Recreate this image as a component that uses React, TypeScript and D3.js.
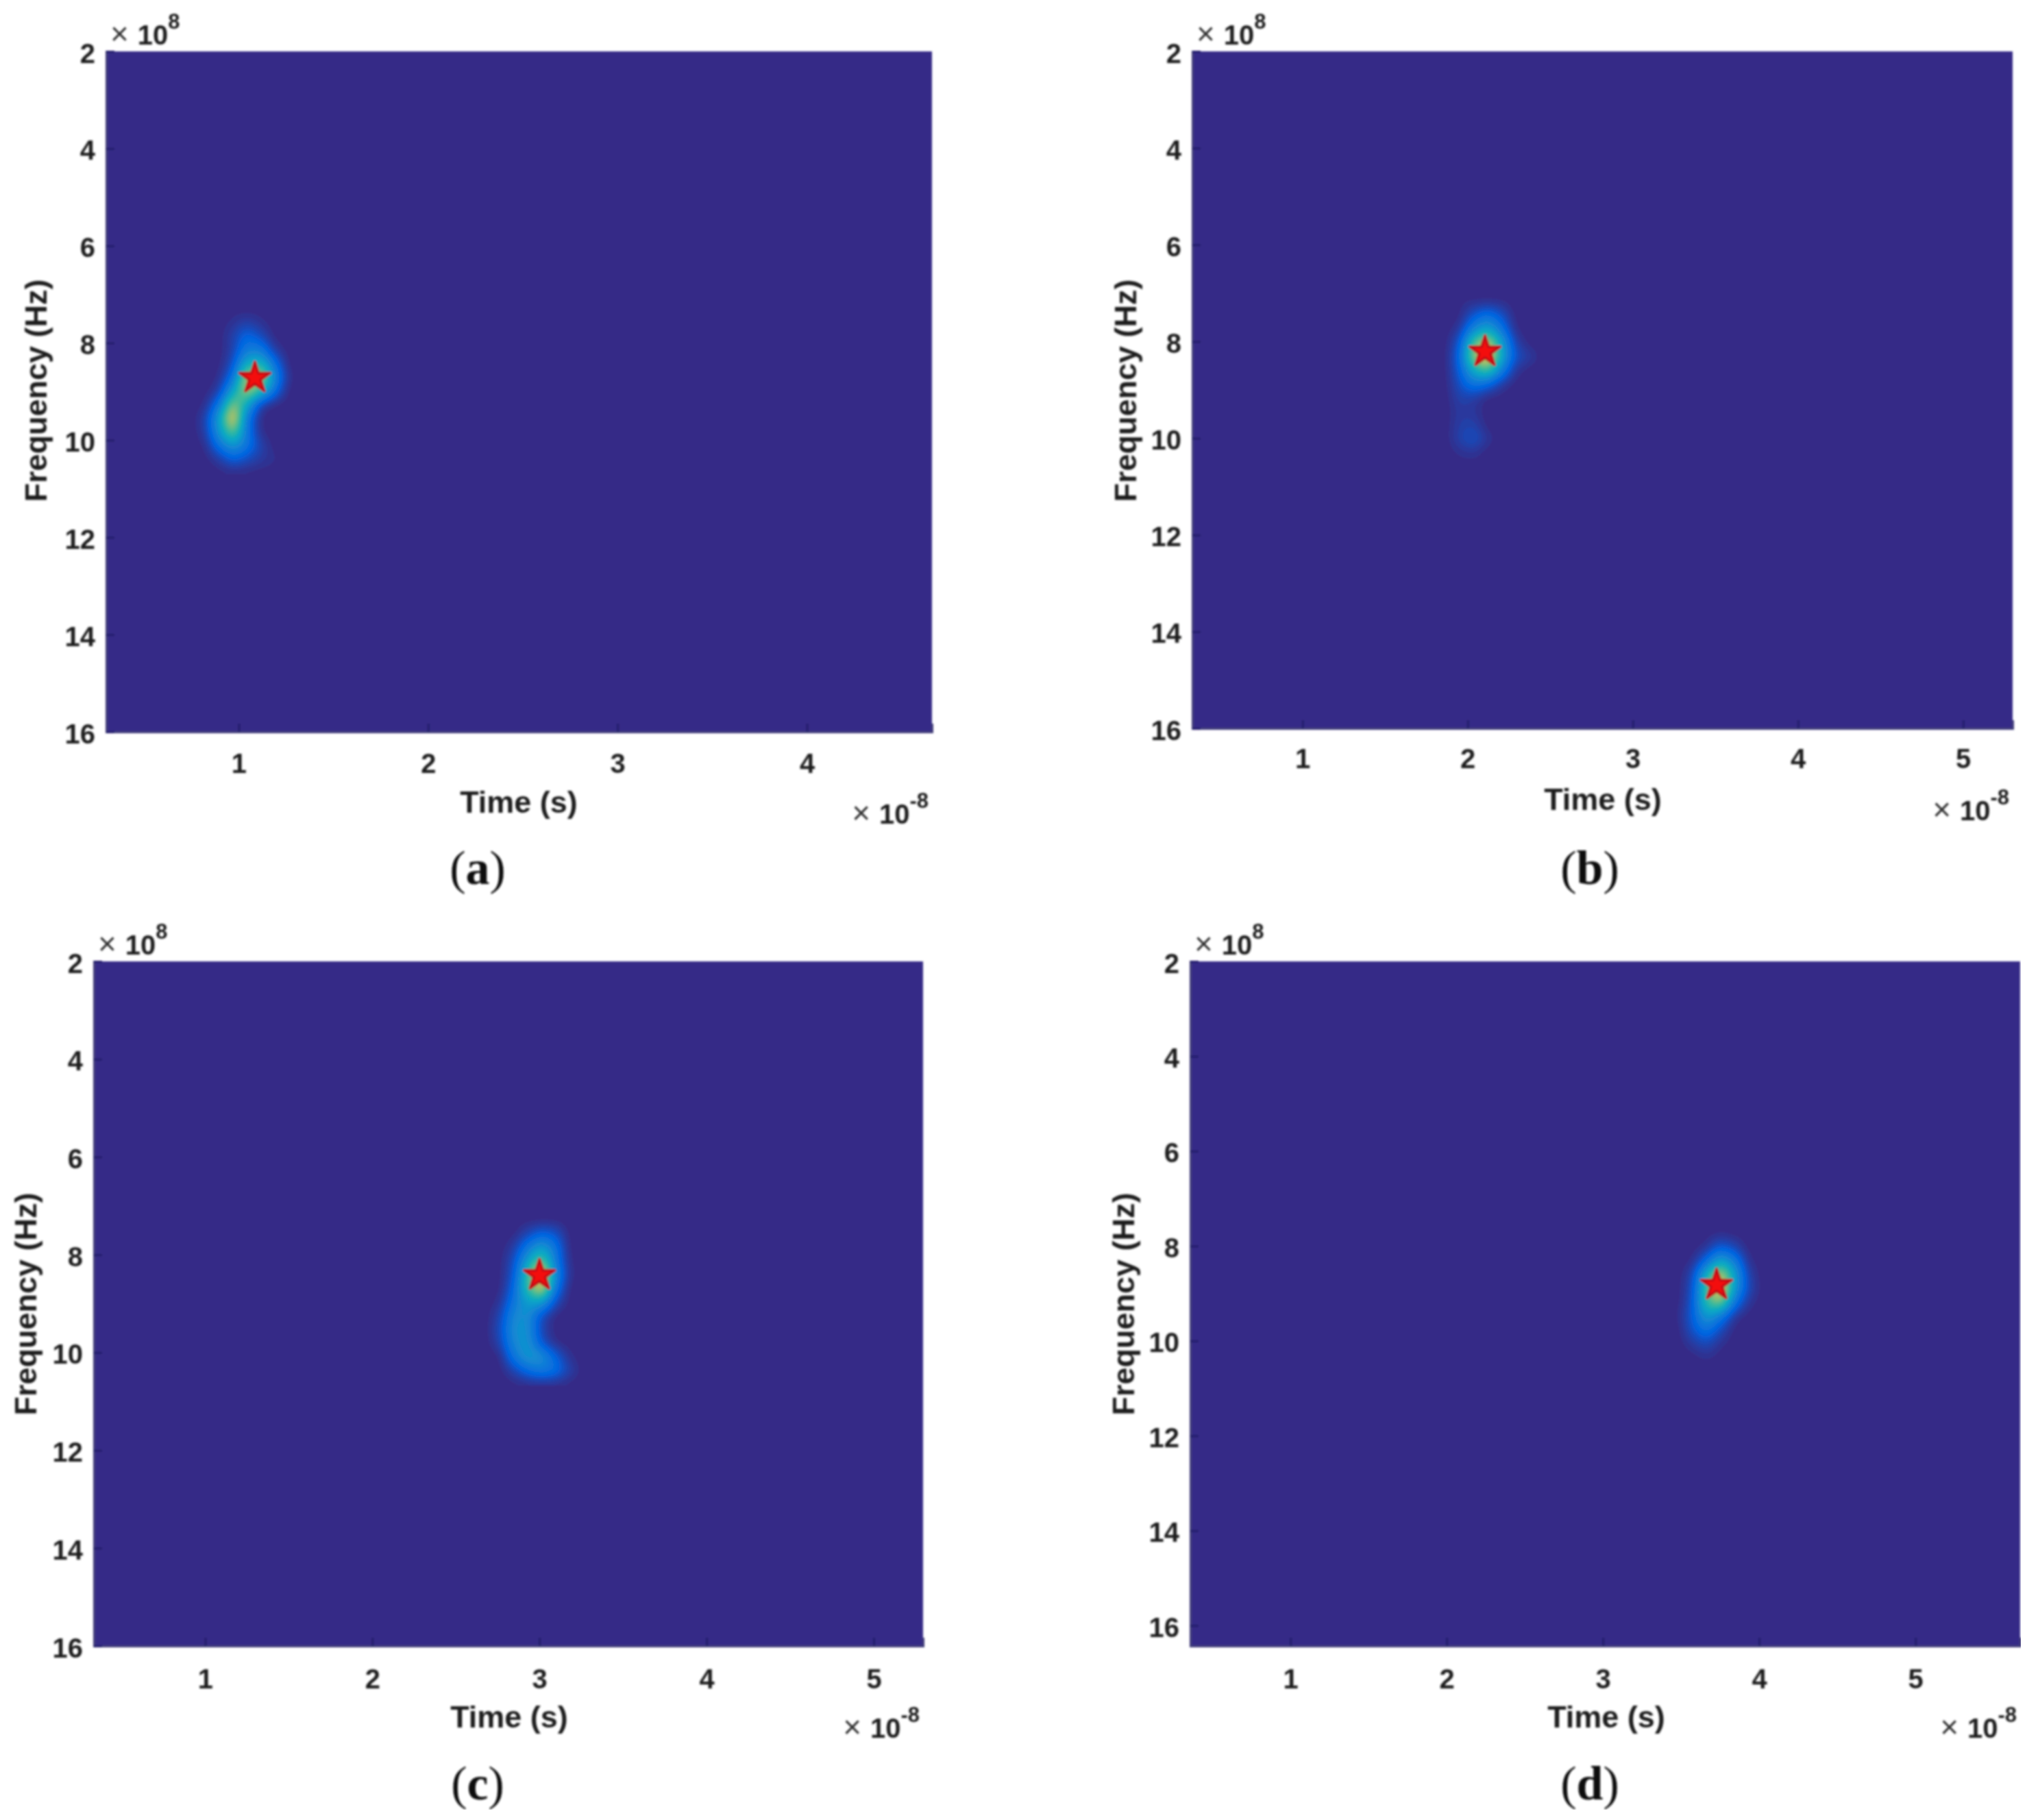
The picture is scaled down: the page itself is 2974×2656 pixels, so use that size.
import React from "react";
import * as d3 from "d3";

// time axis is in units of 1e-8 s, frequency in units of 1e8 Hz
const letters = ["a", "b", "c", "d"];
const timeTicksA = [1, 2, 3, 4];
const timeTicksB = [1, 2, 3, 4, 5];
const freqTicks = [2, 4, 6, 8, 10, 12, 14, 16];

const timeDomains = [
  [0.3, 4.66],
  [0.333, 5.3],
  [0.334, 5.295],
  [0.359, 5.67],
];
const freqDomains = [
  [2, 16],
  [2, 16],
  [2, 16],
  [2, 16.43],
];

// peak locations (time, freq)
const peakTimes = [1.085, 2.105, 3.0, 3.727];
const peakFreqs = [8.72, 8.21, 8.42, 8.82];

// first sample and step of each energy patch
const patchTimes = [
  [0.6075, 0.0723],
  [1.62, 0.083],
  [2.601, 0.082],
  [3.311, 0.0877],
];
const patchFreqs = [
  [7.005, 0.282],
  [6.889, 0.2834],
  [7.003, 0.2803],
  [7.448, 0.289],
];

// normalised energy, rows go down in frequency
const energyA = [
  [0, 0, 0, 0, 0, 0, 0, 0, 0, 0, 0, 0],
  [0, 0, 0, 0, 0, 0, 0, 0, 0, 0, 0, 0],
  [0, 0, 0, 0, 0, 0.02, 0.05, 0.02, 0, 0, 0, 0],
  [0, 0, 0, 0, 0, 0.05, 0.15, 0.08, 0, 0, 0, 0],
  [0, 0, 0, 0, 0, 0.05, 0.22, 0.22, 0.04, 0, 0, 0],
  [0, 0, 0, 0, 0, 0.08, 0.4, 0.45, 0.18, 0, 0, 0],
  [0, 0, 0, 0, 0.01, 0.16, 0.7, 0.75, 0.28, 0.02, 0, 0],
  [0, 0, 0, 0, 0.04, 0.35, 0.7, 0.5, 0.18, 0, 0, 0],
  [0, 0, 0, 0.01, 0.18, 0.66, 0.4, 0.05, 0, 0, 0, 0],
  [0, 0, 0, 0.05, 0.35, 0.84, 0.2, 0, 0, 0, 0, 0],
  [0, 0, 0, 0.04, 0.32, 0.62, 0.2, 0.01, 0, 0, 0, 0],
  [0, 0, 0, 0.01, 0.18, 0.32, 0.2, 0.06, 0, 0, 0, 0],
  [0, 0, 0, 0, 0.04, 0.13, 0.08, 0.04, 0.02, 0, 0, 0],
  [0, 0, 0, 0, 0, 0, 0, 0, 0, 0, 0, 0],
];
const energyB = [
  [0, 0, 0, 0, 0, 0, 0, 0, 0, 0, 0, 0],
  [0, 0, 0, 0, 0.01, 0.01, 0.01, 0.01, 0, 0, 0, 0],
  [0, 0, 0, 0, 0, 0.1, 0.18, 0.1, 0, 0, 0, 0],
  [0, 0, 0, 0, 0.03, 0.25, 0.38, 0.2, 0.01, 0, 0, 0],
  [0, 0, 0, 0, 0.1, 0.55, 0.75, 0.38, 0.06, 0, 0, 0],
  [0, 0, 0, 0, 0.14, 0.65, 0.9, 0.42, 0.1, 0.05, 0, 0],
  [0, 0, 0, 0, 0.12, 0.4, 0.55, 0.25, 0.03, 0, 0, 0],
  [0, 0, 0, 0, 0.09, 0.2, 0.15, 0.04, 0, 0, 0, 0],
  [0, 0, 0, 0, 0.06, 0.05, 0, 0, 0, 0, 0, 0],
  [0, 0, 0, 0, 0.04, 0.03, 0, 0, 0, 0, 0, 0],
  [0, 0, 0, 0, 0.05, 0.06, 0, 0, 0, 0, 0, 0],
  [0, 0, 0, 0, 0.06, 0.1, 0.03, 0, 0, 0, 0, 0],
  [0, 0, 0, 0, 0.02, 0.03, 0, 0, 0, 0, 0, 0],
  [0, 0, 0, 0, 0, 0, 0, 0, 0, 0, 0, 0],
];
const energyC = [
  [0, 0, 0, 0, 0, 0, 0, 0, 0, 0, 0, 0],
  [0, 0, 0, 0, 0, 0, 0, 0, 0, 0, 0, 0],
  [0, 0, 0, 0, 0.06, 0.13, 0.1, 0, 0, 0, 0, 0],
  [0, 0, 0, 0.04, 0.2, 0.35, 0.2, 0, 0, 0, 0, 0],
  [0, 0, 0, 0.08, 0.35, 0.6, 0.22, 0.01, 0, 0, 0, 0],
  [0, 0, 0, 0.1, 0.5, 0.9, 0.28, 0.02, 0, 0, 0, 0],
  [0, 0, 0, 0.14, 0.5, 0.8, 0.2, 0, 0, 0, 0, 0],
  [0, 0, 0.02, 0.2, 0.35, 0.35, 0.08, 0, 0, 0, 0, 0],
  [0, 0, 0.06, 0.27, 0.3, 0.08, 0, 0, 0, 0, 0, 0],
  [0, 0, 0.08, 0.3, 0.3, 0.06, 0, 0, 0, 0, 0, 0],
  [0, 0, 0.06, 0.27, 0.32, 0.1, 0.01, 0, 0, 0, 0, 0],
  [0, 0, 0, 0.2, 0.33, 0.3, 0.14, 0.02, 0, 0, 0, 0],
  [0, 0, 0, 0.06, 0.16, 0.22, 0.18, 0.06, 0, 0, 0, 0],
  [0, 0, 0, 0, 0, 0, 0, 0, 0, 0, 0, 0],
];
const energyD = [
  [0, 0, 0, 0, 0, 0, 0, 0, 0, 0, 0, 0],
  [0, 0, 0, 0, 0, 0.01, 0, 0, 0, 0, 0, 0],
  [0, 0, 0, 0, 0.02, 0.12, 0.07, 0, 0, 0, 0, 0],
  [0, 0, 0, 0.01, 0.15, 0.38, 0.24, 0.02, 0, 0, 0, 0],
  [0, 0, 0, 0.06, 0.42, 0.75, 0.38, 0.06, 0, 0, 0, 0],
  [0, 0, 0, 0.08, 0.52, 0.9, 0.35, 0.08, 0, 0, 0, 0],
  [0, 0, 0, 0.1, 0.5, 0.65, 0.2, 0.03, 0, 0, 0, 0],
  [0, 0, 0.01, 0.12, 0.35, 0.22, 0.03, 0, 0, 0, 0, 0],
  [0, 0, 0, 0.1, 0.2, 0.08, 0, 0, 0, 0, 0, 0],
  [0, 0, 0, 0.04, 0.08, 0.02, 0, 0, 0, 0, 0, 0],
  [0, 0, 0, 0, 0.02, 0, 0, 0, 0, 0, 0, 0],
  [0, 0, 0, 0, 0, 0, 0, 0, 0, 0, 0, 0],
];
const energies = [energyA, energyB, energyC, energyD];

// parula, as MATLAB draws it
const parula = [
  "#352a87", "#0363e1", "#1485d4", "#06a7c6", "#38b99e",
  "#92bf73", "#d9ba56", "#fcce2e", "#f9fb0e",
];

const layouts = [
  { left: 155, right: 1360, top: 75, bottom: 1068, tickY: 1128, ylabelX: 53, ylabelY: 570, timeX: 757, timeY: 1186, capX: 697, capY: 1290 },
  { left: 1740, right: 2937, top: 75, bottom: 1063, tickY: 1121, ylabelX: 1643, ylabelY: 570, timeX: 2339, timeY: 1182, capX: 2320, capY: 1290 },
  { left: 137, right: 1347, top: 1403, bottom: 2402, tickY: 2464, ylabelX: 38, ylabelY: 1903, timeX: 743, timeY: 2521, capX: 697, capY: 2626 },
  { left: 1737, right: 2948, top: 1403, bottom: 2402, tickY: 2464, ylabelX: 1640, ylabelY: 1903, timeX: 2344, timeY: 2521, capX: 2320, capY: 2626 },
];

const UP = 6;

// bilinear upsample so the contours come out smooth
const upsample = (grid: number[][]) => {
  const rows = grid.length;
  const cols = grid[0].length;
  const width = (cols - 1) * UP + 1;
  const height = (rows - 1) * UP + 1;
  const data = new Float64Array(width * height);
  for (let j = 0; j < height; j++) {
    const r = Math.min(Math.floor(j / UP), rows - 2);
    const v = j / UP - r;
    for (let i = 0; i < width; i++) {
      const c = Math.min(Math.floor(i / UP), cols - 2);
      const u = i / UP - c;
      data[j * width + i] =
        (1 - v) * ((1 - u) * grid[r][c] + u * grid[r][c + 1]) +
        v * ((1 - u) * grid[r + 1][c] + u * grid[r + 1][c + 1]);
    }
  }
  d3.blur2({ data, width, height }, 1.5);
  return { data, width, height };
};

const App = (): JSX.Element => {
  const container = React.useRef<SVGGElement | null>(null);

  React.useEffect(() => {
    if (!container.current) return;
    const root = d3.select(container.current);
    root.selectAll("*").remove();

    const color = d3
      .scaleLinear<string>()
      .domain(parula.map((_, i) => i / (parula.length - 1)))
      .range(parula);

    layouts.forEach((l, p) => {
      const x = d3.scaleLinear().domain(timeDomains[p]).range([l.left, l.right]);
      const y = d3.scaleLinear().domain(freqDomains[p]).range([l.top, l.bottom]);
      const g = root.append("g");

      g.append("rect")
        .attr("x", l.left)
        .attr("y", l.top)
        .attr("width", l.right - l.left)
        .attr("height", l.bottom - l.top)
        .attr("fill", color(0));

      // energy patch
      const { data, width, height } = upsample(energies[p]);
      const [t0, dt] = patchTimes[p];
      const [f0, df] = patchFreqs[p];
      const contours = d3
        .contours()
        .size([width, height])
        .thresholds(d3.range(0.015, 1, 0.015))(Array.from(data));
      const project = d3.geoTransform({
        point(px, py) {
          this.stream.point(x(t0 + (dt * (px - 0.5)) / UP), y(f0 + (df * (py - 0.5)) / UP));
        },
      });
      const path = d3.geoPath(project);
      g.append("g")
        .selectAll("path")
        .data(contours)
        .enter()
        .append("path")
        .attr("d", (d) => path(d))
        .attr("fill", (d) => color(d.value));

      // peak marker
      g.append("path")
        .attr("d", d3.symbol(d3.symbolStar, 620)())
        .attr("transform", `translate(${x(peakTimes[p])},${y(peakFreqs[p])})`)
        .attr("fill", "#f40a0a")
        .attr("stroke", "#c01018")
        .attr("stroke-width", 4)
        .attr("stroke-linejoin", "round");

      // axes
      const tickValues = p === 0 ? timeTicksA : timeTicksB;
      const xAxis = g
        .append("g")
        .attr("transform", `translate(0,${l.bottom})`)
        .call(d3.axisBottom(x).tickValues(tickValues).tickSize(-12).tickFormat(d3.format("d")));
      const yAxis = g
        .append("g")
        .attr("transform", `translate(${l.left},0)`)
        .call(d3.axisLeft(y).tickValues(freqTicks).tickSize(-12).tickFormat(d3.format("d")));
      [xAxis, yAxis].forEach((axis) => {
        axis.selectAll("path").attr("stroke", "#3f3d78").attr("stroke-width", 3);
        axis.selectAll("line").attr("stroke", "#241f6a").attr("stroke-width", 3);
        axis
          .selectAll("text")
          .attr("font-family", "Liberation Sans")
          .attr("font-weight", "bold")
          .attr("font-size", 40)
          .attr("fill", "#1e1e1e");
      });
      xAxis.selectAll("text").attr("y", l.tickY - l.bottom).attr("dy", null);
      yAxis.selectAll("text").attr("x", -16).attr("dy", "0.4em");

      const sans = (sel: any) =>
        sel.attr("font-family", "Liberation Sans").attr("font-weight", "bold").attr("fill", "#1e1e1e");

      sans(g.append("text"))
        .attr("x", l.timeX)
        .attr("y", l.timeY)
        .attr("text-anchor", "middle")
        .attr("font-size", 45)
        .text("Time (s)");
      sans(g.append("text"))
        .attr("transform", `translate(${l.ylabelX + 15},${l.ylabelY}) rotate(-90)`)
        .attr("text-anchor", "middle")
        .attr("font-size", 45)
        .text("Frequency (Hz)");

      // axis multipliers
      const power = (ax: number, ay: number, anchor: string, exp: string) => {
        const t = sans(g.append("text"))
          .attr("x", ax)
          .attr("y", ay)
          .attr("text-anchor", anchor)
          .attr("font-size", 40);
        t.append("tspan").attr("font-weight", "normal").attr("font-size", 46).attr("fill", "#333").text("× ");
        t.append("tspan").text("10");
        t.append("tspan").attr("font-size", 31).attr("dy", -23).text(exp);
      };
      power(l.left + 6, l.top - 10, "start", "8");
      power(l.right - 5, l.bottom + 134, "end", "-8");

      // panel caption, only the letter is bold
      const cap = g
        .append("text")
        .attr("x", l.capX)
        .attr("y", l.capY)
        .attr("text-anchor", "middle")
        .attr("font-family", "Liberation Serif")
        .attr("font-size", 70)
        .attr("fill", "#111");
      cap.append("tspan").text("(");
      cap.append("tspan").attr("font-weight", "bold").text(letters[p]);
      cap.append("tspan").text(")");
    });
  }, []);

  return (
    <svg
      width={2974}
      height={2656}
      style={{ position: "absolute", left: 0, top: 0, background: "#fff" }}
    >
      <defs>
        <filter id="soft" x="0" y="0" width="100%" height="100%">
          <feGaussianBlur stdDeviation="1.8" />
        </filter>
      </defs>
      <g ref={container} filter="url(#soft)" />
    </svg>
  );
};

export default App;
